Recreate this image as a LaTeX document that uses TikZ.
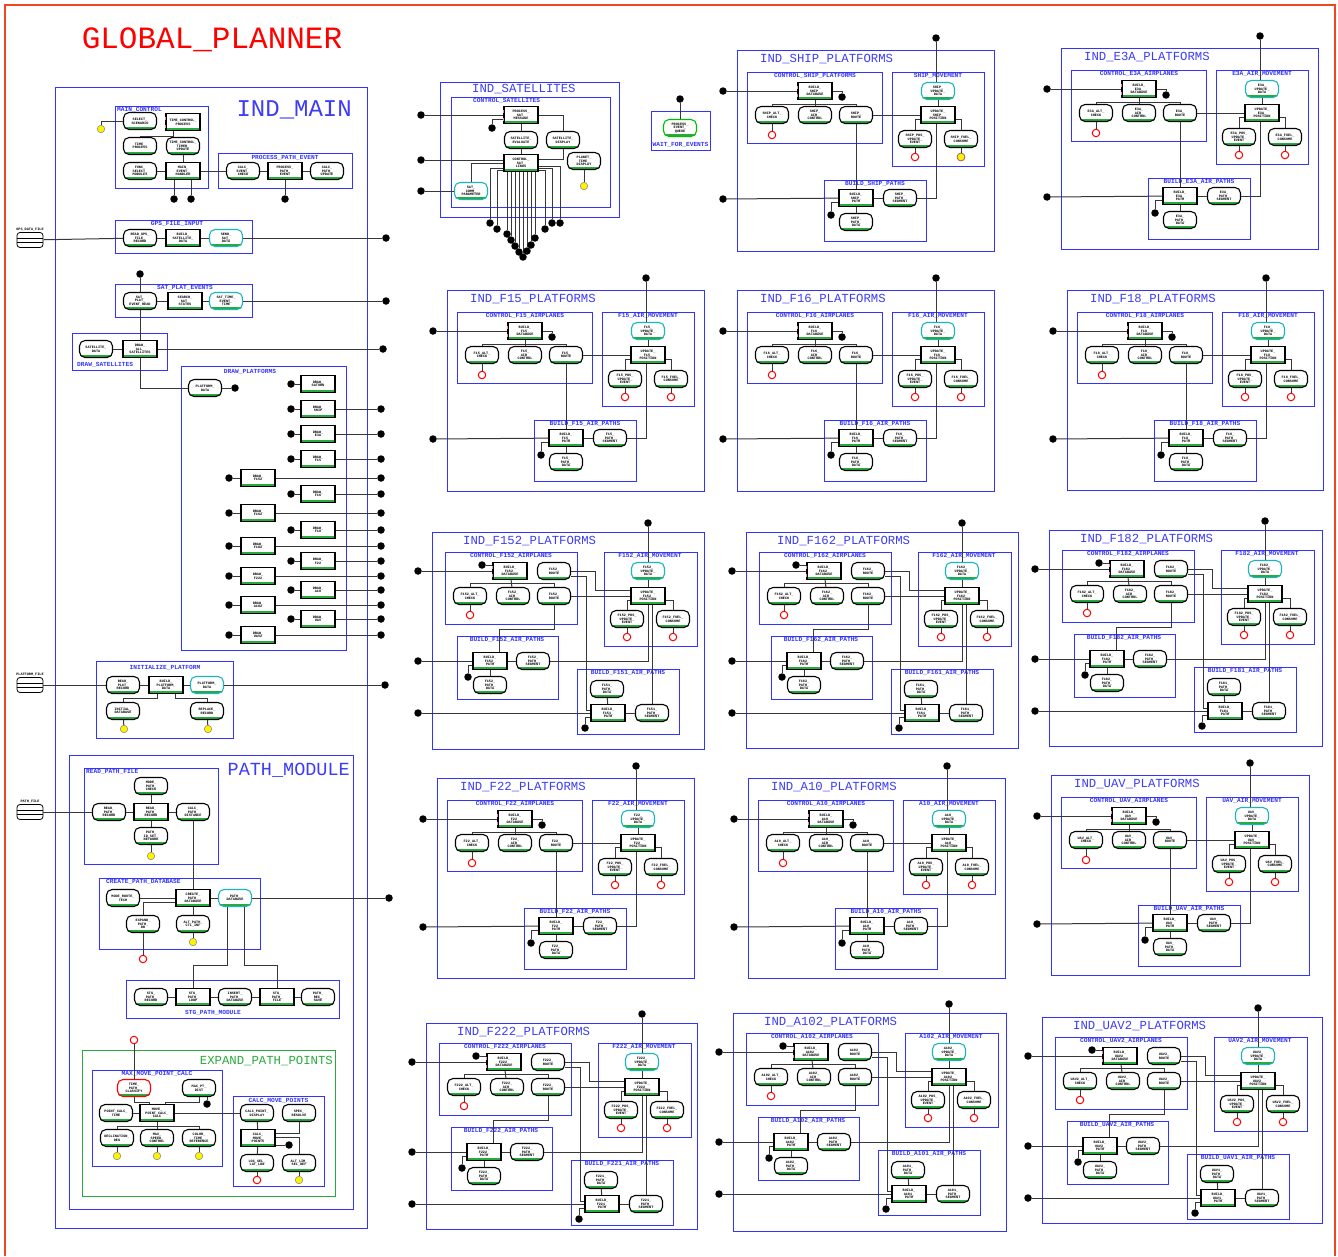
\documentclass[tikz,border=0pt]{standalone}
\usepackage{fontspec}
\setmainfont{Liberation Sans}
\newfontfamily\hmono{Liberation Mono}
\usetikzlibrary{calc}
\definecolor{bblue}{RGB}{51,51,255}
\definecolor{tblue}{RGB}{60,60,250}
\definecolor{frame}{RGB}{240,70,30}
\definecolor{gline}{RGB}{40,170,60}
\definecolor{cyanb}{RGB}{30,180,190}
\definecolor{lnc}{RGB}{55,55,55}
\tikzset{
  pbox/.style={draw=bblue,line width=0.9pt},
  gbox/.style={draw=gline,line width=0.9pt},
  ptitle/.style={text=tblue,font=\hmono\fontsize{12.3}{13}\selectfont,inner sep=0,anchor=west},
  slabel/.style={text=bblue,font=\hmono\bfseries\fontsize{6.2}{7}\selectfont,inner sep=0},
  tx/.style={font=\hmono\bfseries\fontsize{3.5}{3.7}\selectfont,align=center,inner sep=0},
  uline/.style={path picture={\draw[gline,line width=1.4pt]([yshift=1.7pt]path picture bounding box.south west)--([yshift=1.7pt]path picture bounding box.south east);}},
  rnode/.style={tx,draw=black,line width=1.1pt,rounded corners=5.5pt,minimum width=33pt,minimum height=17pt,fill=white,uline},
  rnodec/.style={rnode,draw=cyanb},
  rnoder/.style={rnode,draw=red},
  rnodeg/.style={rnode,draw=green!75!black},
  snode/.style={tx,draw=black,line width=1.3pt,minimum width=34pt,minimum height=17pt,fill=white,uline},
  conn/.style={draw=lnc,line width=1pt},
  dot/.style={circle,fill=black,inner sep=0,minimum size=7.5pt},
  rdot/.style={circle,draw=red,fill=white,line width=1pt,inner sep=0,minimum size=7.5pt},
  ydot/.style={circle,draw=black!50,fill=yellow,line width=0.5pt,inner sep=0,minimum size=7.5pt},
}
\newcommand\pinkm[1]{\draw[magenta!50,line width=1.3pt] ([yshift=5pt]#1.west) -- ([yshift=2pt]#1.west) ([yshift=-3pt]#1.west) -- ([yshift=-6pt]#1.west);}
\newcommand\dbic[4]{%
  \node[draw=black,line width=0.8pt,rounded corners=3pt,minimum width=26pt,minimum height=15pt,inner sep=0,fill=white] (#1) at (#2,#3) {};
  \draw[line width=0.6pt] ([yshift=2pt]#1.west) -- ([yshift=2pt]#1.east) ([yshift=-2pt]#1.west) -- ([yshift=-2pt]#1.east);
  \node[tx,anchor=south] at ([yshift=1pt]#1.north) {#4};}
% template A: prefix, X, Y, code, ctrl label, move label, build label, W, H
\newcommand\platA[9]{%
\begin{scope}[shift={(#2,#3)}]
\draw[pbox] (0,0) rectangle (#8,#9);
\node[ptitle] at (23,9) {IND\_#4\_PLATFORMS};
\draw[pbox] (10,22) rectangle (145,93);
\node[slabel] at (78,26) {#5};
\node[snode] (#1c) at (78,41) {BUILD\_\\#4\_\\DATABASE};
\node[rnode] (#1c1) at (35,65) {#4\_ALT\_\\CHECK};
\node[rnode] (#1c2) at (78,65) {#4\_\\AIR\_\\CONTROL};
\node[rnode] (#1c3) at (119,65) {#4\_\\ROUTE};
\node[rdot] (#1cr) at (35,85) {};
\node[dot] (#1cb) at (105,47) {};
\node[dot] (#1in1) at (-14,41) {};
\draw[pbox] (155,22) rectangle (247,116);
\node[slabel] at (201,26) {#6};
\node[rnodec] (#1mc) at (201,41) {#4\_\\UPDATE\_\\DATA};
\node[snode] (#1m) at (201,65) {UPDATE\_\\#4\_\\POSITION};
\node[rnode] (#1m1) at (178,89) {#4\_POS\_\\UPDATE\_\\EVENT};
\node[rnode] (#1m2) at (224,89) {#4\_FUEL\_\\CONSUME};
\node[rdot] (#1mr1) at (178,107) {};
\node[rdot] (#1mr2) at (224,107) {};
\node[dot] (#1top) at (199,-12) {};
\draw[pbox] (87,130) rectangle (189,191);
\node[slabel] at (138,134) {#7};
\node[snode] (#1b) at (119,148) {BUILD\_\\#4\_\\PATH};
\node[rnode] (#1b1) at (163,148) {#4\_\\PATH\_\\SEGMENT};
\node[rnode] (#1b2) at (119,172) {#4\_\\PATH\_\\DATA};
\node[dot] (#1bb) at (94,165) {};
\node[dot] (#1in2) at (-14,149) {};
\pinkm{#1c}
\draw[conn] (#1in1) -- (#1c);
\draw[conn] (#1c.east) -| (#1cb);
\draw[conn] (#1c1.north) |- ([yshift=-4pt]#1c.south) -| (#1c3.north);
\draw[conn] (#1c) -- (#1c2);
\draw[conn] (#1c1) -- (#1cr);
\draw[conn] (#1c3) -- (#1m);
\draw[conn] (#1c3) -- (#1b);
\draw[conn] (#1top) -- (#1top |- #1mc.north);
\draw[conn] (#1mc) -- (#1m);
\draw[conn] ([yshift=-4pt]#1m.west) -| (#1m1.north);
\draw[conn] ([yshift=-4pt]#1m.east) -| (#1m2.north);
\draw[conn] (#1m1) -- (#1mr1);
\draw[conn] (#1m2) -- (#1mr2);
\draw[conn] ([xshift=-2pt]#1m.south) |- (#1b1.east);
\draw[conn] (#1in2) -- (#1b);
\draw[conn] (#1b) -- (#1b1);
\draw[conn] (#1b) -- (#1b2);
\draw[conn] ([yshift=-4pt]#1b.west) -| (#1bb);
\end{scope}}
% template B: prefix, X, Y, code, code2, W, H
\newcommand\platB[7]{%
\begin{scope}[shift={(#2,#3)}]
\draw[pbox] (0,0) rectangle (#6,#7);
\node[ptitle] at (31,9) {IND\_#4\_PLATFORMS};
\draw[pbox] (13,20) rectangle (145,92);
\node[slabel] at (79,24) {CONTROL\_#4\_AIRPLANES};
\node[snode] (#1c) at (78,39) {BUILD\_\\#4\_\\DATABASE};
\node[rnode] (#1cR) at (122,39) {#4\_\\ROUTE};
\node[rnode] (#1c1) at (38,64) {#4\_ALT\_\\CHECK};
\node[rnode] (#1c2) at (81,64) {#4\_\\AIR\_\\CONTROL};
\node[rnode] (#1c3) at (122,64) {#4\_\\ROUTE};
\node[rdot] (#1cr) at (38,83) {};
\node[dot] (#1cb) at (50,33) {};
\node[dot] (#1in1) at (-14,39) {};
\draw[pbox] (172,20) rectangle (265,114);
\node[slabel] at (218,24) {#4\_AIR\_MOVEMENT};
\node[rnodec] (#1mc) at (216,39) {#4\_\\UPDATE\_\\DATA};
\node[snode] (#1m) at (216,64) {UPDATE\_\\#4\_\\POSITION};
\node[rnode] (#1m1) at (195,87) {#4\_POS\_\\UPDATE\_\\EVENT};
\node[rnode] (#1m2) at (241,87) {#4\_FUEL\_\\CONSUME};
\node[rdot] (#1mr1) at (195,105) {};
\node[rdot] (#1mr2) at (241,105) {};
\node[dot] (#1top) at (216,-9) {};
\draw[pbox] (25,104) rectangle (126,167);
\node[slabel] at (75,108) {BUILD\_#4\_AIR\_PATHS};
\node[snode] (#1b) at (58,129) {BUILD\_\\#4\_\\PATH};
\node[rnode] (#1b1) at (101,129) {#4\_\\PATH\_\\SEGMENT};
\node[rnode] (#1b2) at (58,153) {#4\_\\PATH\_\\DATA};
\node[dot] (#1bb) at (36,145) {};
\node[dot] (#1in2) at (-14,129) {};
\draw[pbox] (145,137) rectangle (247,202);
\node[slabel] at (196,141) {BUILD\_#5\_AIR\_PATHS};
\node[rnode] (#1d1) at (175,157) {#5\_\\PATH\_\\DATA};
\node[snode] (#1d) at (176,181) {BUILD\_\\#5\_\\PATH};
\node[rnode] (#1d2) at (220,181) {#5\_\\PATH\_\\SEGMENT};
\node[dot] (#1db) at (153,196) {};
\node[dot] (#1in3) at (-14,181) {};
\pinkm{#1c}
\draw[conn] (#1in1) -- (#1c);
\draw[conn] (#1cb) -- (#1cb -| #1c.west);
\draw[conn] (#1c1.north) |- ([yshift=-3pt]#1c.south) -| (#1c3.north);
\draw[conn] (#1c) -- (#1c2);
\draw[conn] (#1c1) -- (#1cr);
\draw[conn] (#1cR.east) -- ++(24,0) |- ([yshift=6pt]#1m.west);
\draw[conn] ([yshift=-5pt]#1cR.east) -- ++(15,0) |- ([yshift=3pt]#1d.west);
\draw[conn] (#1c3) -- (#1m);
\draw[conn] (#1c3.south) -- ++(0,24) -| ([xshift=9pt]#1b.north);
\draw[conn] (#1top) -- (#1mc);
\draw[conn] (#1mc) -- (#1m);
\draw[conn] ([yshift=-4pt]#1m.west) -| (#1m1.north);
\draw[conn] ([yshift=-4pt]#1m.east) -| (#1m2.north);
\draw[conn] (#1m1) -- (#1mr1);
\draw[conn] (#1m2) -- (#1mr2);
\draw[conn] (#1m.south) |- (#1b1.east);
\draw[conn] ([xshift=4pt]#1m.south) -- (#1d2.north);
\draw[conn] (#1in2) -- (#1b);
\draw[conn] (#1b) -- (#1b1);
\draw[conn] (#1b) -- (#1b2);
\draw[conn] ([yshift=-4pt]#1b.west) -| (#1bb);
\draw[conn] (#1d1) -- (#1d);
\draw[conn] (#1d) -- (#1d2);
\draw[conn] ([yshift=-4pt]#1d.west) -| (#1db);
\draw[conn] (#1in3) -- (#1d);
\end{scope}}
\begin{document}
\begin{tikzpicture}[x=1pt,y=-1pt]
\useasboundingbox (0,0) rectangle (1338,1256);
\fill[white] (0,0) rectangle (1338,1256);
\draw[frame,line width=2pt] (5,1256) -- (5,5) -- (1335,5) -- (1335,1256);
\node[text=red,font=\hmono\fontsize{31}{32}\selectfont,inner sep=0] (gtitle) at (212,40) {GLOBAL\_PLANNER};

% ================= IND_MAIN =================
\draw[pbox] (55,87) rectangle (367,1228);
\node[ptitle,font=\hmono\fontsize{24}{25}\selectfont,anchor=east] at (352,110) {IND\_MAIN};
% MAIN_CONTROL
\draw[pbox] (115,106) rectangle (208,188);
\node[slabel,anchor=west] at (117,110) {MAIN\_CONTROL};
\node[rnode] (mc1) at (140,121) {SELECT\_\\SCENARIO};
\node[snode] (mc2) at (183,122) {TIME\_CONTROL\_\\PROCESS};
\node[rnode] (mc3) at (140,146) {TIME\_\\PROCESS};
\node[rnode] (mc4) at (183,146) {TIME\_CONTROL\_\\TIMER\_\\UPDATE};
\node[rnode] (mc5) at (140,171) {FUNC\_\\SELECT\_\\MODULES};
\node[snode] (mc6) at (183,171) {MAIN\_\\EVENT\_\\HANDLER};
\node[ydot] (mcy) at (101,129) {};
\node[dot] (mcd1) at (174,199) {};
\node[dot] (mcd2) at (191,199) {};
\pinkm{mc2}
\draw[conn] (mc1.west) -| (mcy);
\draw[conn] ([xshift=-10pt]mc2.south) -- ++(0,5) -| (mc3.north);
\draw[conn] (mc4) -- (mc6);
\draw[conn] (mc5) -- (mc6);
\draw[conn] ([xshift=-9pt]mc6.south) -- (mcd1);
\draw[conn] ([xshift=8pt]mc6.south) -- (mcd2);
% PROCESS_PATH_EVENT
\draw[pbox] (218,153) rectangle (352,188);
\node[slabel] at (285,158) {PROCESS\_PATH\_EVENT};
\node[rnode] (pp1) at (243,171) {CALC\_\\EVENT\_\\CHECK};
\node[snode] (pp2) at (285,171) {PROCESS\_\\PATH\_\\EVENT};
\node[rnode] (pp3) at (327,171) {CALC\_\\PATH\_\\UPDATE};
\node[dot] (ppd) at (285,199) {};
\draw[conn] (mc6) -- (pp1);
\draw[conn] (pp1) -- (pp2);
\draw[conn] (pp2) -- (pp3);
\draw[conn] (pp2) -- (ppd);
% GPS_FILE_INPUT
\draw[pbox] (115,220) rectangle (252,253);
\node[slabel] at (177,224) {GPS\_FILE\_INPUT};
\node[rnode] (g1) at (140,238) {READ\_GPS\_\\FILE\_\\RECORD};
\node[snode] (g2) at (183,238) {BUILD\_\\SATELLITE\_\\DATA};
\node[rnodec] (g3) at (226,238) {SEND\_\\SAT\_\\DATA};
\node[dot] (gout) at (386,238) {};
\dbic{db1}{30}{240}{GPS\_DATA\_FILE}
\draw[conn] (db1) -- (g1);
\draw[conn] (g1) -- (g2);
\draw[conn] (g2) -- (g3);
\draw[conn] (g3) -- (gout);
% SAT_PLAT_EVENTS
\draw[pbox] (115,284) rectangle (252,317);
\node[slabel] at (185,288) {SAT\_PLAT\_EVENTS};
\node[rnode] (s1) at (140,301) {SAT\_\\PLAT\_\\EVENT\_READ};
\node[snode] (s2) at (185,301) {SEARCH\_\\SAT\_\\STATUS};
\node[rnodec] (s3) at (226,301) {SAT\_TIME\_\\EVENT\_\\TIME};
\node[dot] (stop) at (140,274) {};
\node[dot] (sout) at (386,301) {};
\draw[conn] (stop) -- (s1);
\draw[conn] (s1) -- (s2);
\draw[conn] (s2) -- (s3);
\draw[conn] (s3) -- (sout);
% DRAW_SATELLITES
\draw[pbox] (72,333) rectangle (167,370);
\node[slabel,anchor=west] at (77,365) {DRAW\_SATELLITES};
\node[rnode] (ds1) at (96,349) {SATELLITE\_\\DATA};
\node[snode] (ds2) at (140,349) {DRAW\_\\ALL\_\\SATELLITES};
\node[dot] (dsout) at (383,349) {};
\draw[conn] (s1) -- (ds2);
\draw[conn] (ds1) -- (ds2);
\draw[conn] (ds2) -- (dsout);
% DRAW_PLATFORMS
\draw[pbox] (181,366) rectangle (346,650);
\node[slabel] at (250,372) {DRAW\_PLATFORMS};
\node[rnode] (dp0) at (205,388) {PLATFORM\_\\DATA};
\node[dot] (dp0d) at (235,388) {};
\draw[conn] (dp0) -- (dp0d);
\draw[conn] (ds2.south) |- (dp0.west);
\foreach \i/\yy/\tt in {1/384/SATURN,2/409/SHIP,3/434/E3A,4/459/F15,5/494/F16,6/530/F18,7/561/F22,8/590/A10,9/619/UAV}{
  \node[snode] (dr\i) at (318,\yy) {DRAW\_\\\tt};
  \node[dot] (drl\i) at (291,\yy) {};
  \draw[conn] (drl\i) -- (dr\i);
}
\foreach \i/\yy in {2/409,3/434,4/459,5/494,6/530,7/561,8/590,9/619}{
  \node[dot] (drr\i) at (381,\yy) {};
  \draw[conn] (dr\i) -- (drr\i);
}
\foreach \i/\yy/\tt in {1/478/F152,2/513/F162,3/546/F182,4/576/F222,5/605/A102,6/635/UAV2}{
  \node[snode] (dl\i) at (258,\yy) {DRAW\_\\\tt};
  \node[dot] (dll\i) at (229,\yy) {};
  \node[dot] (dlr\i) at (381,\yy) {};
  \draw[conn] (dll\i) -- (dl\i);
  \draw[conn] (dl\i) -- (dlr\i);
}
% INITIALIZE_PLATFORM
\draw[pbox] (96,661) rectangle (233,738);
\node[slabel] at (165,668) {INITIALIZE\_PLATFORM};
\node[rnode] (i1) at (123,685) {READ\_\\PLAT\_\\RECORD};
\node[snode] (i2) at (166,685) {BUILD\_\\PLATFORM\_\\DATA};
\node[rnodec] (i3) at (207,685) {PLATFORM\_\\DATA};
\node[rnode] (i4) at (123,711) {INITIAL\_\\DATABASE};
\node[rnode] (i5) at (207,711) {REPLACE\_\\RECORD};
\node[ydot] (iy1) at (124,729) {};
\node[ydot] (iy2) at (208,729) {};
\node[dot] (iout) at (385,685) {};
\dbic{db2}{30}{685}{PLATFORM\_FILE}
\draw[conn] (db2) -- (i1);
\draw[conn] (i1) -- (i2);
\draw[conn] (i2) -- (i3);
\draw[conn] (i3) -- (iout);
\draw[conn] ([xshift=-9pt]i2.south) -- ++(0,4) -| (i4.north);
\draw[conn] ([xshift=9pt]i2.south) -- ++(0,4) -| (i5.north);
\draw[conn] (i4) -- (iy1);
\draw[conn] (i5) -- (iy2);

% ================= PATH_MODULE =================
\draw[pbox] (69,755) rectangle (353,1209);
\node[ptitle,font=\hmono\fontsize{18.5}{19}\selectfont,anchor=east] at (350,770) {PATH\_MODULE};
% READ_PATH_FILE
\draw[pbox] (84,768) rectangle (218,864);
\node[slabel,anchor=west] at (86,772) {READ\_PATH\_FILE};
\node[rnode] (rp1) at (151,786) {MODE\_\\PATH\_\\CHECK};
\node[rnode] (rp2) at (109,812) {READ\_\\PATH\_\\RECORD};
\node[snode] (rp3) at (151,812) {READ\_\\PATH\_\\RECORD};
\node[rnode] (rp4) at (193,812) {CALC\_\\PATH\_\\DISTANCE};
\node[rnode] (rp5) at (151,836) {PATH\_\\ID\_SET\_\\NETWORK};
\node[ydot] (rpy) at (151,856) {};
\dbic{db3}{30}{812}{PATH\_FILE}
\draw[conn] (db3) -- (rp2);
\draw[conn] (rp1) -- (rp3);
\draw[conn] (rp2) -- (rp3);
\draw[conn] (rp3) -- (rp4);
\draw[conn] (rp3) -- (rp5);
\draw[conn] (rp5) -- (rpy);
% CREATE_PATH_DATABASE
\draw[pbox] (99,878) rectangle (260,949);
\node[slabel,anchor=west] at (106,882) {CREATE\_PATH\_DATABASE};
\node[rnode] (cp1) at (123,898) {MODE\_ROUTE\_\\TECH};
\node[snode] (cp2) at (193,898) {CREATE\_\\PATH\_\\DATABASE};
\node[rnodec] (cp3) at (235,898) {PATH\_\\DATABASE};
\node[rnode] (cp4) at (143,924) {EXPAND\_\\PATH\_\\DB};
\node[rnode] (cp5) at (193,924) {ALT\_PATH\_\\CTL\_INF};
\node[ydot] (cpy) at (193,942) {};
\node[rdot] (cpr) at (143,959) {};
\node[dot] (cpo) at (389,898) {};
\draw[conn] (rp4) -- (cp2);
\draw[conn] (cp1) -- (cp2);
\draw[conn] (cp2) -- (cp3);
\draw[conn] (cp3) -- (cpo);
\draw[conn] ([yshift=-4pt]cp2.west) -| (cp4.north);
\draw[conn] (cp2) -- (cp5);
\draw[conn] (cp5) -- (cpy);
\draw[conn] (cp4) -- (cpr);
% STG_PATH_MODULE
\draw[pbox] (126,980) rectangle (339,1018);
\node[slabel] at (213,1013) {STG\_PATH\_MODULE};
\node[rnode] (stg1) at (151,997) {STG\_\\PATH\_\\RECORD};
\node[snode] (stg2) at (193,997) {STG\_\\PATH\_\\LOOP};
\node[rnode] (stg3) at (235,997) {INSERT\_\\PATH\_\\DATABASE};
\node[snode] (stg4) at (277,997) {STG\_\\PATH\_\\FILE};
\node[rnode] (stg5) at (318,997) {PATH\_\\REC\_\\SAVE};
\draw[conn] (stg1) -- (stg2);
\draw[conn] (stg2) -- (stg3);
\draw[conn] (stg3) -- (stg4);
\draw[conn] (stg4) -- (stg5);
\draw[conn] ([xshift=-8pt]cp3.south) -- ++(0,58.5) -| (stg2.north);
\draw[conn] ([xshift=9pt]cp3.south) -- ++(0,58.5) -| (stg4.north);
% EXPAND_PATH_POINTS
\node[rdot] (exr) at (134,1040) {};
\draw[gbox] (82,1050) rectangle (335,1196);
\node[text=gline,font=\hmono\fontsize{12.3}{13}\selectfont,inner sep=0,anchor=east] at (333,1061) {EXPAND\_PATH\_POINTS};
\draw[pbox] (92,1070) rectangle (222,1166);
\node[slabel] at (157,1074) {MAX\_MOVE\_POINT\_CALC};
\node[rnoder] (x1) at (134,1088) {TIME\_\\PATH\_\\CLASSIFY};
\node[rnode] (x2) at (199,1088) {MAX\_PT\_\\DIST};
\node[dot] (xb) at (207,1104) {};
\node[rnode] (x3) at (116,1113) {POINT\_CALC\_\\TIME};
\node[snode] (x4) at (157,1113) {MOVE\_\\POINT\_CALC\_\\CALC};
\node[rnode] (x5) at (117,1138) {DECLINATION\_\\DEG};
\node[rnode] (x6) at (157,1138) {MAX\_\\SPEED\_\\CONTROL};
\node[rnode] (x7) at (199,1138) {COLOR\_\\TIME\_\\REFERENCE};
\node[ydot] (xy1) at (117,1156) {};
\node[ydot] (xy2) at (157,1156) {};
\node[ydot] (xy3) at (199,1156) {};
\draw[conn] (exr) -- (x1);
\draw[conn] (x1.south) -- ++(0,5) -| ([xshift=-8pt]x4.north);
\draw[conn] (x2.south) -- ++(0,5) -| ([xshift=8pt]x4.north);
\draw[conn] ([xshift=8pt]x2.south) -- (xb);
\draw[conn] (x3) -- (x4);
\draw[conn] (x5.north) |- ([yshift=-4pt]x4.south) -| (x7.north);
\draw[conn] (x4) -- (x6);
\draw[conn] (x5) -- (xy1);
\draw[conn] (x6) -- (xy2);
\draw[conn] (x7) -- (xy3);
% CALC_MOVE_POINTS
\draw[pbox] (233,1096) rectangle (324,1186);
\node[slabel] at (278.5,1101) {CALC\_MOVE\_POINTS};
\node[rnode] (cn1) at (257,1113) {CALC\_POINT\_\\DISPLAY};
\node[rnode] (cn2) at (299,1113) {SPEC\_\\RESOLVE};
\node[snode] (cr) at (258,1138) {CALC\_\\MOVE\_\\POINTS};
\node[dot] (crd) at (289,1145) {};
\node[rnode] (cn3) at (257,1163) {LOC\_SEL\_\\LAT\_LON};
\node[rnode] (cn4) at (299,1163) {ALT\_LIM\_\\SEL\_DEF};
\node[rdot] (cnr) at (257,1180) {};
\node[ydot] (cny) at (299,1180) {};
\draw[conn] (x4) -- (cn1);
\draw[conn] (cn2.south) |- ([yshift=5pt]cr.east);
\draw[conn] ([yshift=1pt]cr.east) -| (cn4.north);
\draw[conn] ([yshift=-7pt]cr.east) -- (crd);
\draw[conn] (cn1) -- (cr);
\draw[conn] (cr) -- (cn3);
\draw[conn] (cn3) -- (cnr);
\draw[conn] (cn4) -- (cny);

% ================= IND_SATELLITES =================
\draw[pbox] (440,82) rectangle (619,217);
\node[ptitle] at (472,89) {IND\_SATELLITES};
\draw[pbox] (451,97) rectangle (610,207);
\node[slabel,anchor=west] at (473,101) {CONTROL\_SATELLITES};
\node[snode] (sa1) at (521,115) {PROCESS\_\\SAT\_\\MESSAGE};
\node[rnode] (sa2) at (521,140) {SATELLITE\_\\EVALUATE};
\node[rnode] (sa3) at (563,140) {SATELLITE\_\\DISPLAY};
\node[snode] (sa4) at (521,163) {CONTROL\_\\SAT\_\\LINKS};
\node[rnode] (sa5) at (584,161) {PLANET\_\\TIME\_\\DISPLAY};
\node[rnodec] (sa6) at (471,191) {SAT\_\\COMM\_\\PARAMETER};
\node[dot] (sai1) at (421,115) {};
\node[dot] (sai2) at (421,160) {};
\node[dot] (sai3) at (421,191) {};
\node[dot] (sab) at (492,128) {};
\node[ydot] (say) at (584,186) {};
\pinkm{sa1}
\draw[conn] (sai1) -- (sa1);
\draw[conn] ([yshift=-4pt]sa1.west) -| (sab);
\draw[conn] (sa1) -- (sa2);
\draw[conn] (sa1.east) -| (sa3.north);
\draw[conn] (sa2) -- (sa4);
\draw[conn] (sa3.south) |- ([yshift=4pt]sa4.east);
\draw[conn] (sai2) -- ([yshift=3pt]sa4.west);
\draw[conn] (sa4.west) -| (sa6.north);
\draw[conn] (sai3) -- (sa6);
\draw[conn] (sa5) -- (say);
\node[dot] (f1) at (490,223) {};
\node[dot] (f2) at (497,229) {};
\draw[conn] (f1) |- ([yshift=-5pt]sa4.west);
\draw[conn] (f2) |- ([yshift=-7pt]sa4.west);
\foreach \n/\xx/\yy in {3/507/234,4/511/240,5/515/246,6/519/252,7/523/257,8/527/251,9/531/245,10/535/238}{
  \node[dot] (f\n) at (\xx,\yy) {};
  \draw[conn] (f\n) -- (f\n |- sa4.south);
}
\node[dot] (f11) at (545,229) {};
\node[dot] (f12) at (552,223) {};
\node[dot] (f13) at (560,223) {};
\draw[conn] (f11) |- ([yshift=-7pt]sa4.east);
\draw[conn] (f12) |- ([yshift=-5pt]sa4.east);
\draw[conn] (f13) |- ([yshift=-3pt]sa4.east);

% ================= WAIT_FOR_EVENTS =================
\draw[pbox] (651,111) rectangle (710,150);
\node[slabel] at (680.5,145) {WAIT\_FOR\_EVENTS};
\node[rnodeg] (wf) at (680,128) {PROCESS\_\\EVENT\_\\QUEUE};
\node[dot] (wft) at (680,99) {};
\draw[conn] (wft) -- (wf);

% ================= PLATFORM PANELS =================
\platA{sh}{737}{50}{SHIP}{CONTROL\_SHIP\_PLATFORMS}{SHIP\_MOVEMENT}{BUILD\_SHIP\_PATHS}{257}{201}
\node[ydot] at (shmr2) {};
\platA{ea}{1061}{48}{E3A}{CONTROL\_E3A\_AIRPLANES}{E3A\_AIR\_MOVEMENT}{BUILD\_E3A\_AIR\_PATHS}{257}{201}
\platA{fa}{447}{290}{F15}{CONTROL\_F15\_AIRPLANES}{F15\_AIR\_MOVEMENT}{BUILD\_F15\_AIR\_PATHS}{257}{201}
\platA{fb}{737}{290}{F16}{CONTROL\_F16\_AIRPLANES}{F16\_AIR\_MOVEMENT}{BUILD\_F16\_AIR\_PATHS}{257}{201}
\platA{fc}{1067}{290}{F18}{CONTROL\_F18\_AIRPLANES}{F18\_AIR\_MOVEMENT}{BUILD\_F18\_AIR\_PATHS}{256}{200}
\platA{fd}{437}{778}{F22}{CONTROL\_F22\_AIRPLANES}{F22\_AIR\_MOVEMENT}{BUILD\_F22\_AIR\_PATHS}{257}{200}
\platA{fe}{748}{778}{A10}{CONTROL\_A10\_AIRPLANES}{A10\_AIR\_MOVEMENT}{BUILD\_A10\_AIR\_PATHS}{257}{200}
\platA{ff}{1051}{775}{UAV}{CONTROL\_UAV\_AIRPLANES}{UAV\_AIR\_MOVEMENT}{BUILD\_UAV\_AIR\_PATHS}{258}{200}
\platB{ga}{432}{532}{F152}{F151}{272}{217}
\platB{gb}{746}{532}{F162}{F161}{272}{216}
\platB{gc}{1049}{530}{F182}{F181}{273}{216}
\platB{gd}{426}{1023}{F222}{F221}{271}{206}
\platB{ge}{733}{1013}{A102}{A101}{273}{218}
\platB{gf}{1042}{1017}{UAV2}{UAV1}{280}{206}
\end{tikzpicture}
\end{document}
